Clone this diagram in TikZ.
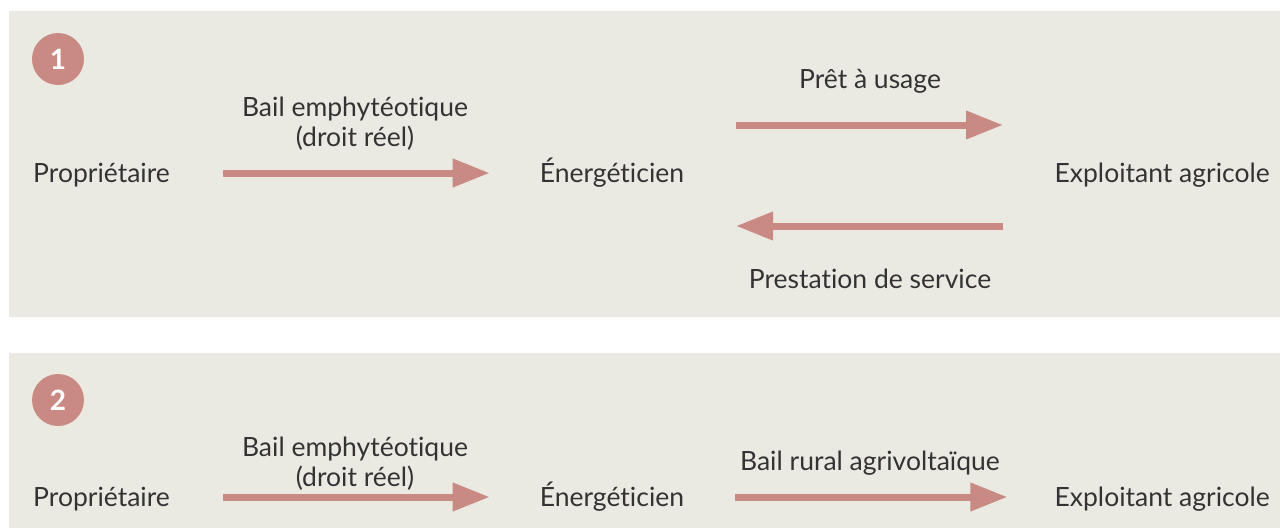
\documentclass[tikz,border=0pt]{standalone}
\usepackage{fontspec}
\setmainfont{Lato}[Ligatures={NoCommon,NoRare}]
\usetikzlibrary{positioning,arrows.meta}
\definecolor{fond}{HTML}{EBEAE2}
\definecolor{rose}{HTML}{C98A84}
\definecolor{texte}{HTML}{333333}
\tikzset {
    style panneau/.style={
        fill=fond,
        draw=none,
        rectangle, % fond du cadre
    },
    style pastille/.style={
        fill=rose,
        circle,
        minimum size=52pt,
        inner sep=0pt,
        text=white,
        font=\fontsize{28}{30}\selectfont\bfseries,
    },
    style acteur/.style={
        text=texte,
        inner sep=0pt,
        text height=24pt,
        text depth=6pt,
        font=\fontsize{26.5}{30}\selectfont,
    },
    style label/.style={
        text=texte,
        inner sep=0pt,
        align=center,
        font=\fontsize{26.5}{30}\selectfont,
    },
    style fleche/.style={
        draw=rose,
        line width=7pt,
        -{Triangle[length=37pt,width=27pt]},
    },
}

\begin{document}
\begin{tikzpicture}[x=1pt,y=-1pt]
        \useasboundingbox (0,0) rectangle (1280,528);
        % cadre 1
        \fill[style panneau] (9,11) rectangle (1280,317);
        \node[style pastille] (num1) at (58,59) {1};
        \node[style acteur, anchor=west] (prop1) at (33,173) {Propriétaire};
        \node[style acteur] (ener1) at (612,173) {Énergéticien};
        \node[style acteur, anchor=east] (expl1) at (1270,173) {Exploitant agricole};
        \node[style label] (bail1) at (355,124) {Bail emphytéotique\\(droit réel)};
        \node[style label] (pret1) at (870,81) {Prêt à usage};
        \node[style label] (prest1) at (870,279) {Prestation de service};
        \coordinate (pretA) at (736,125);
        \coordinate (pretB) at (1003,125);
        \coordinate (prestA) at (1003,226);
        \coordinate (prestB) at (736,226);
        \draw[style fleche, shorten <=53pt, shorten >=50pt] (prop1.east) -- (ener1.west);
        \draw[style fleche] (pretA) -- (pretB);
        \draw[style fleche] (prestA) -- (prestB);
        % cadre 2
        \fill[style panneau] (9,353) rectangle (1280,528);
        \node[style pastille] (num2) at (58,400) {2};
        \node[style acteur, anchor=west] (prop2) at (33,497) {Propriétaire};
        \node[style acteur] (ener2) at (612,497) {Énergéticien};
        \node[style acteur, anchor=east] (expl2) at (1270,497) {Exploitant agricole};
        \node[style label] (bail2) at (355,464) {Bail emphytéotique\\(droit réel)};
        \node[style label] (rural2) at (870,463) {Bail rural agrivoltaïque};
        \draw[style fleche, shorten <=53pt, shorten >=50pt] (prop2.east) -- (ener2.west);
        \draw[style fleche, shorten <=51pt, shorten >=47pt] (ener2.east) -- (expl2.west);
    \end{tikzpicture}
\end{document}
